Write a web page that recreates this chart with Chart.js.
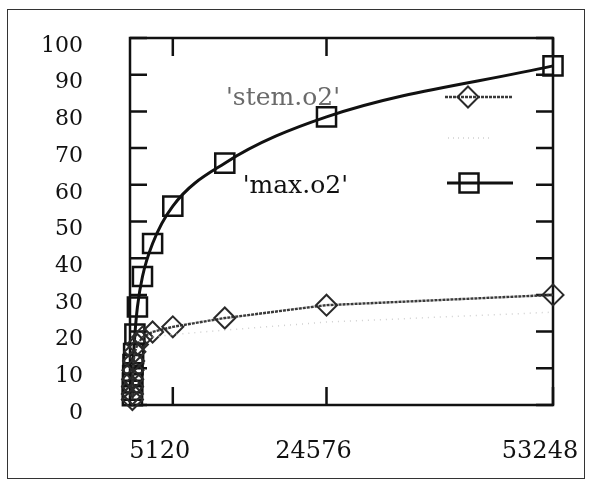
<!DOCTYPE html>
<html>
<head>
<meta charset="utf-8">
<script src="https://cdn.jsdelivr.net/npm/chart.js@4.4.1/dist/chart.umd.min.js"></script>
<style>
    html, body { margin: 0; padding: 0; background: #fff; }
    #wrap { position: relative; width: 590px; height: 484px; }
    #frame { position: absolute; left: 7px; top: 9px; width: 578px; height: 470px; border: 1.5px solid #333; box-sizing: border-box; }
    canvas { position: absolute; left: 0; top: 0; }
</style>
</head>
<body>
<div id="wrap">
    <div id="frame"></div>
    <canvas id="chart" width="590" height="484"></canvas>
</div>
<script>
const sizes = [5, 10, 20, 40, 80, 160, 320, 640, 1280, 2560, 5120, 11700, 24576, 53248];
const maxO2 = [2.5, 4, 6, 8, 11, 14, 19.3, 26.7, 35, 44, 54.2, 65.9, 78.5, 92.4];
const stemO2 = [1.5, 3, 5, 7, 9.5, 12, 14.5, 16.5, 18.5, 19.9, 21.3, 23.7, 27.2, 30.0];
// third curve that barely survived the scan (no readable key text)
const faintSizes = [2560, 5120, 11700, 24576, 53248];
const faintO2 = [18.5, 19.2, 20.4, 22.6, 25.3];

const xTickValues = [5120, 24576, 53248];
const yTickValues = [0, 10, 20, 30, 40, 50, 60, 70, 80, 90, 100];

const serif = '"DejaVu Serif", "Liberation Serif", serif';
const toPoints = (xs, ys) => xs.map((x, i) => ({ x, y: ys[i] }));

const drawDiamond = (ctx, cx, cy, r) => {
    ctx.beginPath();
    ctx.moveTo(cx, cy - r); ctx.lineTo(cx + r, cy); ctx.lineTo(cx, cy + r); ctx.lineTo(cx - r, cy);
    ctx.closePath();
    ctx.stroke();
};

// keep tick labels from pushing the plot box around
const noOverhang = scale => {
    scale.paddingLeft = 0; scale.paddingRight = 0;
    scale.paddingTop = 0; scale.paddingBottom = 0;
};

const gnuplotFrame = {
    id: 'gnuplotFrame',
    beforeDatasetsDraw(chart) {
        const { ctx, chartArea: a, scales: { x, y } } = chart;
        ctx.save();
        ctx.strokeStyle = '#111';
        ctx.lineWidth = 2.5;
        ctx.strokeRect(a.left, a.top, a.right - a.left, a.bottom - a.top);
        ctx.beginPath();
        yTickValues.forEach(v => {
            const p = y.getPixelForValue(v);
            ctx.moveTo(a.left, p); ctx.lineTo(a.left + 17, p);
            ctx.moveTo(a.right, p); ctx.lineTo(a.right - 17, p);
        });
        xTickValues.forEach(v => {
            const p = x.getPixelForValue(v);
            ctx.moveTo(p, a.top); ctx.lineTo(p, a.top + 18);
            ctx.moveTo(p, a.bottom); ctx.lineTo(p, a.bottom - 18);
        });
        ctx.stroke();
        ctx.restore();
    },
    afterDatasetsDraw(chart) {
        // gnuplot style key: right-justified text, sample line with marker
        const ctx = chart.ctx;
        ctx.save();
        ctx.font = '25px ' + serif;
        ctx.textAlign = 'right';
        ctx.textBaseline = 'middle';

        ctx.fillStyle = '#6a6a6a';
        ctx.fillText("'stem.o2'", 340, 98);
        ctx.strokeStyle = '#3a3a3a';
        ctx.lineWidth = 2.4;
        ctx.setLineDash([3, 1]);
        ctx.beginPath(); ctx.moveTo(445, 97); ctx.lineTo(513, 97); ctx.stroke();
        ctx.setLineDash([]);
        ctx.lineWidth = 2;
        ctx.strokeStyle = '#2a2a2a';
        drawDiamond(ctx, 468, 97, 10.5);

        ctx.strokeStyle = '#cfcfcf';
        ctx.lineWidth = 1.5;
        ctx.setLineDash([1, 4]);
        ctx.beginPath(); ctx.moveTo(448, 138); ctx.lineTo(493, 138); ctx.stroke();
        ctx.setLineDash([]);

        ctx.fillStyle = '#111';
        ctx.fillText("'max.o2'", 348, 186);
        ctx.strokeStyle = '#111';
        ctx.lineWidth = 3;
        ctx.beginPath(); ctx.moveTo(447, 183); ctx.lineTo(513, 183); ctx.stroke();
        ctx.lineWidth = 2.5;
        ctx.strokeRect(469 - 9.5, 183 - 9.5, 19, 19);
        ctx.restore();
    }
};

new Chart(document.getElementById('chart').getContext('2d'), {
    type: 'line',
    data: {
        datasets: [
            {
                label: 'faint',
                data: toPoints(faintSizes, faintO2),
                borderColor: '#d0d0d0',
                borderWidth: 1.5,
                borderDash: [1, 5],
                pointRadius: 0,
                clip: false,
            },
            {
                label: "'stem.o2'",
                data: toPoints(sizes, stemO2),
                borderColor: '#3a3a3a',
                borderWidth: 2.4,
                borderDash: [3, 1],
                pointStyle: 'rectRot',
                pointRadius: 10.5,
                pointBorderWidth: 2,
                pointBorderColor: '#2a2a2a',
                pointBackgroundColor: 'rgba(0,0,0,0)',
                tension: 0,
                clip: false,
            },
            {
                label: "'max.o2'",
                data: toPoints(sizes, maxO2),
                borderColor: '#111',
                borderWidth: 3,
                pointStyle: 'rect',
                pointRadius: 13.5,
                pointBorderWidth: 2.5,
                pointBorderColor: '#111',
                pointBackgroundColor: 'rgba(0,0,0,0)',
                cubicInterpolationMode: 'monotone',
                clip: false,
            },
        ]
    },
    options: {
        responsive: false,
        animation: false,
        events: [],
        layout: { padding: { left: 0, top: 38, right: 37, bottom: 0 } },
        plugins: { legend: { display: false }, tooltip: { enabled: false } },
        scales: {
            x: {
                type: 'linear',
                min: -300,
                max: 53248,
                grid: { display: false },
                border: { display: false },
                afterBuildTicks: scale => { scale.ticks = xTickValues.map(v => ({ value: v })); },
                afterFit: scale => { scale.height = 79; noOverhang(scale); },
                ticks: {
                    color: '#111',
                    font: { family: serif, size: 24 },
                    padding: 24,
                    labelOffset: -13,
                    maxRotation: 0,
                    autoSkip: false,
                    callback: v => String(v),
                },
            },
            y: {
                min: 0,
                max: 100,
                grid: { display: false },
                border: { display: false },
                afterBuildTicks: scale => { scale.ticks = yTickValues.map(v => ({ value: v })); },
                afterFit: scale => { scale.width = 130; noOverhang(scale); },
                ticks: {
                    color: '#111',
                    font: { family: serif, size: 22 },
                    padding: 39,
                    labelOffset: 8,
                },
            },
        }
    },
    plugins: [gnuplotFrame]
});
</script>
</body>
</html>
